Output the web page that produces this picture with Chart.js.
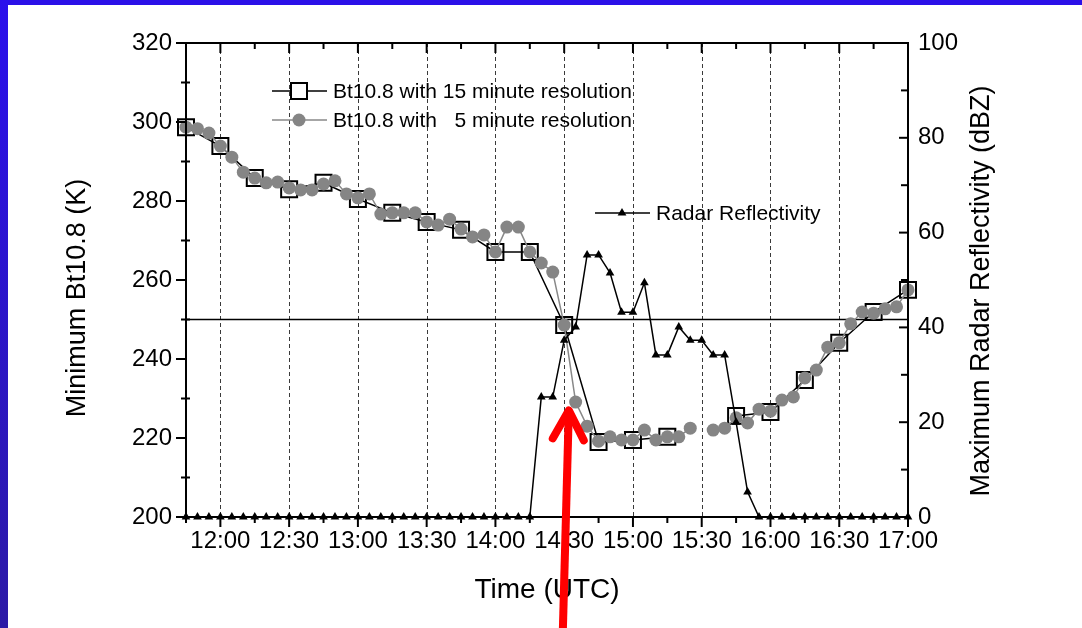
<!DOCTYPE html>
<html>
<head>
<meta charset="utf-8">
<script src="https://cdn.jsdelivr.net/npm/chart.js@4.4.1/dist/chart.umd.min.js"></script>
<style>
  html, body { margin: 0; padding: 0; background: #fff; }
  #page { position: relative; width: 1082px; height: 628px; overflow: hidden; background: #fff; }
  #edgeTop { position: absolute; left: 0; top: 0; width: 1082px; height: 5px; background: #2b10e8; }
  #edgeLeft { position: absolute; left: 0; top: 0; width: 8px; height: 628px; background: linear-gradient(#2b10ec, #2c1aa6); }
  #chart { position: absolute; left: 8px; top: 5px; }
</style>
</head>
<body>
<div id="page">
  <div id="edgeTop"></div>
  <div id="edgeLeft"></div>
  <canvas id="chart" width="1074" height="623"></canvas>
</div>
<script>
const FONT = '"Liberation Sans", Arial, sans-serif';

// time axis labels (UTC)
const xTickLabels = ['12:00', '12:30', '13:00', '13:30', '14:00', '14:30', '15:00', '15:30', '16:00', '16:30', '17:00'];
const xRange = ['11:45', '17:00'];

// Bt10.8 every 15 minutes (K)
const times15 = ['11:45', '12:00', '12:15', '12:30', '12:45', '13:00', '13:15', '13:30', '13:45', '14:00', '14:15',
    '14:30', '14:45', '15:00', '15:15', '15:30', '15:45', '16:00', '16:15', '16:30', '16:45', '17:00'];
const bt15 = [298.7, 293.9, 285.8, 283.0, 284.6, 280.5, 277.0, 274.7, 272.7, 267.1, 267.1,
    248.6, 219.0, 219.5, 220.3, null, 225.6, 226.6, 234.7, 244.1, 251.9, 257.5];

// Bt10.8 and radar every 5 minutes
const times5 = [
    '11:45', '11:50', '11:55', '12:00', '12:05', '12:10', '12:15', '12:20', '12:25', '12:30', '12:35', '12:40',
    '12:45', '12:50', '12:55', '13:00', '13:05', '13:10', '13:15', '13:20', '13:25', '13:30', '13:35', '13:40',
    '13:45', '13:50', '13:55', '14:00', '14:05', '14:10', '14:15', '14:20', '14:25', '14:30', '14:35', '14:40',
    '14:45', '14:50', '14:55', '15:00', '15:05', '15:10', '15:15', '15:20', '15:25', '15:30', '15:35', '15:40',
    '15:45', '15:50', '15:55', '16:00', '16:05', '16:10', '16:15', '16:20', '16:25', '16:30', '16:35', '16:40',
    '16:45', '16:50', '16:55', '17:00'];
const bt5 = [
    298.7, 298.3, 297.2, 293.9, 291.1, 287.3, 285.8, 284.6, 284.8, 283.3, 282.8, 282.8,
    284.3, 285.1, 281.8, 280.8, 281.8, 276.7, 277.0, 277.0, 277.0, 274.7, 273.9, 275.4,
    272.9, 270.9, 271.4, 267.1, 273.4, 273.4, 267.1, 264.3, 262.0, 248.6, 229.1, 223.0,
    219.2, 220.3, 219.5, 219.5, 222.0, 219.5, 220.3, 220.3, 222.5, null, 222.0, 222.5,
    225.1, 223.8, 227.3, 226.8, 229.6, 230.4, 235.2, 237.2, 243.0, 244.1, 248.9, 251.9,
    251.6, 252.7, 253.2, 257.5];
const radar = [
    0, 0, 0, 0, 0, 0, 0, 0, 0, 0, 0, 0,
    0, 0, 0, 0, 0, 0, 0, 0, 0, 0, 0, 0,
    0, 0, 0, 0, 0, 0, 0, 25.3, 25.3, 37.3, 40.1, 55.3,
    55.3, 51.5, 43.2, 43.2, 49.4, 34.2, 34.2, 40.1, 37.3, 37.3, 34.2, 34.2,
    20.0, 5.3, 0, 0, 0, 0, 0, 0, 0, 0, 0, 0,
    0, 0, 0, 0];

// 40 dBZ reference level, drawn on the Bt axis
const threshold = [250, 250];

// arrow marker pointing at the 14:32 drop
const arrowTip = { time: '14:32', bt: 227.5 };

const legendItems = [
    { text: 'Bt10.8 with 15 minute resolution', style: 'rect', line: '#000' },
    { text: 'Bt10.8 with   5 minute resolution', style: 'circle', line: '#888' },
    { text: 'Radar Reflectivity', style: 'triangle', line: '#000' }
];

function toMin(t) {
    const [h, m] = t.split(':').map(Number);
    return h * 60 + m;
}

function pairs(times, values) {
    return times.map((t, i) => ({ x: toMin(t), y: values[i] }));
}

function marker(ctx, style, x, y) {
    ctx.save();
    ctx.beginPath();
    if (style === 'rect') {
        ctx.lineWidth = 2;
        ctx.strokeStyle = '#000';
        ctx.fillStyle = '#fff';
        ctx.rect(x - 8, y - 8, 16, 16);
        ctx.fill();
        ctx.stroke();
    } else if (style === 'circle') {
        ctx.fillStyle = '#858585';
        ctx.arc(x, y, 6.5, 0, Math.PI * 2);
        ctx.fill();
    } else {
        ctx.fillStyle = '#000';
        ctx.moveTo(x, y - 5);
        ctx.lineTo(x + 4.4, y + 2.5);
        ctx.lineTo(x - 4.4, y + 2.5);
        ctx.closePath();
        ctx.fill();
    }
    ctx.restore();
}

const decorations = {
    id: 'decorations',
    beforeDatasetsDraw(chart) {
        const { ctx, chartArea: ca, scales } = chart;
        // dashed vertical grid at each half hour
        ctx.save();
        ctx.strokeStyle = '#3a3a3a';
        ctx.lineWidth = 1;
        ctx.setLineDash([4, 3]);
        for (const t of xTickLabels.slice(0, -1)) {
            const x = Math.round(scales.x.getPixelForValue(toMin(t))) + 0.5;
            ctx.beginPath();
            ctx.moveTo(x, ca.top);
            ctx.lineTo(x, ca.bottom);
            ctx.stroke();
        }
        ctx.restore();
    },
    afterDatasetsDraw(chart) {
        const { ctx, chartArea: ca, scales } = chart;
        ctx.save();
        ctx.strokeStyle = '#000';
        ctx.lineWidth = 2;
        ctx.strokeRect(ca.left, ca.top, ca.right - ca.left, ca.bottom - ca.top);

        const line = (x1, y1, x2, y2) => {
            ctx.beginPath();
            ctx.moveTo(x1, y1);
            ctx.lineTo(x2, y2);
            ctx.stroke();
        };

        // time ticks: out at the bottom, in at the top
        const xs = xTickLabels.map(t => scales.x.getPixelForValue(toMin(t)));
        const xMinor = [scales.x.getPixelForValue(toMin(xRange[0]))];
        for (let i = 0; i < xs.length - 1; i++) xMinor.push((xs[i] + xs[i + 1]) / 2);
        xs.forEach(x => { line(x, ca.bottom, x, ca.bottom + 10); line(x, ca.top, x, ca.top + 10); });
        xMinor.forEach(x => { line(x, ca.bottom, x, ca.bottom + 6); line(x, ca.top, x, ca.top + 6); });

        // Bt ticks on the left
        const yl = scales.yL.ticks.map(t => scales.yL.getPixelForValue(t.value));
        yl.forEach(y => line(ca.left - 10, y, ca.left, y));
        for (let i = 0; i < yl.length - 1; i++) {
            const y = (yl[i] + yl[i + 1]) / 2;
            line(ca.left - 5, y, ca.left + 4, y);
        }

        // dBZ ticks on the right, pointing in
        const yr = scales.yR.ticks.map(t => scales.yR.getPixelForValue(t.value));
        yr.forEach(y => line(ca.right - 9, y, ca.right, y));
        for (let i = 0; i < yr.length - 1; i++) {
            const y = (yr[i] + yr[i + 1]) / 2;
            line(ca.right - 7, y, ca.right, y);
        }
        ctx.restore();

        // legends
        const rows = [
            { x: ca.left + 86, y: ca.top + 48 },
            { x: ca.left + 86, y: ca.top + 77 },
            { x: ca.left + 409, y: ca.top + 170 }
        ];
        ctx.save();
        ctx.font = '21px ' + FONT;
        ctx.textBaseline = 'middle';
        ctx.fillStyle = '#000';
        legendItems.forEach((item, i) => {
            const { x, y } = rows[i];
            ctx.strokeStyle = item.line;
            ctx.lineWidth = 1.5;
            line(x, y, x + 55, y);
            marker(ctx, item.style, x + 27, y);
            ctx.fillText(item.text, x + 61, y + 1);
        });
        ctx.restore();

        // vertical axis titles, both reading upward
        ctx.save();
        ctx.font = '27px ' + FONT;
        ctx.fillStyle = '#000';
        ctx.textAlign = 'center';
        ctx.textBaseline = 'middle';
        [['Minimum Bt10.8 (K)', 70, 293], ['Maximum Radar Reflectivity (dBZ)', 974, 286]].forEach(([txt, x, y]) => {
            ctx.save();
            ctx.translate(x, y);
            ctx.rotate(-Math.PI / 2);
            ctx.fillText(txt, 0, 0);
            ctx.restore();
        });
        ctx.restore();

        // red arrow
        const tx = scales.x.getPixelForValue(toMin(arrowTip.time));
        const ty = scales.yL.getPixelForValue(arrowTip.bt);
        ctx.save();
        ctx.strokeStyle = '#ff0000';
        ctx.lineWidth = 8;
        ctx.lineCap = 'round';
        ctx.lineJoin = 'round';
        ctx.beginPath();
        ctx.moveTo(tx - 16, ty + 30);
        ctx.lineTo(tx, ty + 2);
        ctx.lineTo(tx + 15, ty + 32);
        ctx.stroke();
        ctx.lineCap = 'butt';
        ctx.beginPath();
        ctx.moveTo(tx, ty + 4);
        ctx.lineTo(tx - 6, chart.height + 5);
        ctx.stroke();
        ctx.restore();
    }
};

const tickFont = { family: FONT, size: 24 };

new Chart(document.getElementById('chart'), {
    type: 'line',
    data: {
        datasets: [
            {
                label: 'Radar Reflectivity',
                data: pairs(times5, radar),
                yAxisID: 'yR',
                borderColor: '#000',
                borderWidth: 1.5,
                pointStyle: 'triangle',
                pointRadius: 5,
                pointBackgroundColor: '#000',
                pointBorderWidth: 0,
                tension: 0,
                clip: false,
                order: 0
            },
            {
                label: 'Bt10.8 with 5 minute resolution',
                data: pairs(times5, bt5),
                yAxisID: 'yL',
                borderColor: '#888',
                borderWidth: 1.5,
                pointStyle: 'circle',
                pointRadius: 6.5,
                pointBackgroundColor: '#858585',
                pointBorderWidth: 0,
                tension: 0,
                clip: false,
                order: 1
            },
            {
                label: 'Bt10.8 with 15 minute resolution',
                data: pairs(times15, bt15),
                yAxisID: 'yL',
                borderColor: '#000',
                borderWidth: 1.5,
                pointStyle: 'rect',
                pointRadius: 11.3,
                pointBackgroundColor: 'rgba(0,0,0,0)',
                pointBorderColor: '#000',
                pointBorderWidth: 2,
                tension: 0,
                clip: false,
                order: 2
            },
            {
                label: '250 K',
                data: pairs(xRange, threshold),
                yAxisID: 'yL',
                borderColor: '#000',
                borderWidth: 1.5,
                pointRadius: 0,
                order: 3
            }
        ]
    },
    options: {
        responsive: false,
        animation: false,
        events: [],
        layout: { padding: { top: 38, left: 0, right: 0, bottom: 0 } },
        plugins: {
            legend: { display: false },
            tooltip: { enabled: false }
        },
        scales: {
            x: {
                type: 'linear',
                min: toMin(xRange[0]),
                max: toMin(xRange[1]),
                grid: { display: false, drawTicks: false },
                border: { display: false },
                afterBuildTicks: scale => {
                    scale.ticks = xTickLabels.map(t => ({ value: toMin(t) }));
                },
                afterFit: scale => { scale.height = 111; },
                ticks: {
                    autoSkip: false,
                    maxRotation: 0,
                    padding: 10,
                    color: '#000',
                    font: tickFont,
                    callback: (value, i) => xTickLabels[i]
                },
                title: {
                    display: true,
                    text: 'Time (UTC)',
                    color: '#000',
                    font: { family: FONT, size: 28 },
                    padding: { top: 0, bottom: 21 }
                }
            },
            yL: {
                position: 'left',
                min: 200,
                max: 320,
                grid: { display: false, drawTicks: false },
                border: { display: false },
                afterFit: scale => { scale.width = 178; },
                ticks: { stepSize: 20, padding: 14, color: '#000', font: tickFont }
            },
            yR: {
                position: 'right',
                min: 0,
                max: 100,
                grid: { display: false, drawTicks: false },
                border: { display: false },
                afterFit: scale => { scale.width = 174; },
                ticks: { stepSize: 20, padding: 10, color: '#000', font: tickFont }
            }
        }
    },
    plugins: [decorations]
});
</script>
</body>
</html>
